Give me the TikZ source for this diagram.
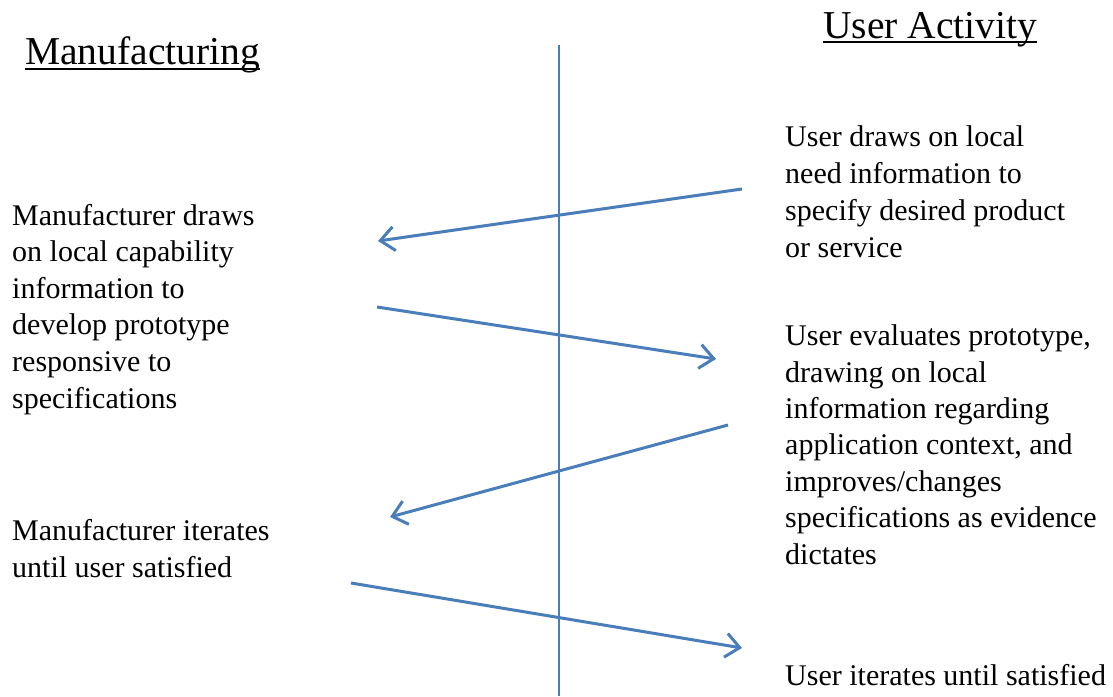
\documentclass[tikz,border=0pt]{standalone}
\usepackage{fontspec}
\setmainfont{Liberation Serif}
\usepackage{tikz}
\usetikzlibrary{positioning,arrows.meta}
\definecolor{flowblue}{RGB}{74,126,187}
\tikzstyle{heading} = [anchor=base west, inner sep=0pt, font=\fontsize{39.5}{46}\selectfont]
\tikzstyle{para} = [anchor=base west, inner sep=0pt, align=left, font=\fontsize{30}{36.4}\selectfont]
\tikzstyle{flow} = [draw=flowblue, line width=3pt, -{Straight Barb[length=14pt,width=24pt,line width=3pt]}]
\tikzstyle{divider} = [draw=flowblue, line width=1.7pt]

\begin{document}
\begin{tikzpicture}[x=1pt, y=-1pt]
            \useasboundingbox (0,0) rectangle (1113,696);
            % column headings
            \node[heading] (mfg) at (25,64) {Manufacturing};
            \node[heading] (usr) at (823,38) {User Activity};
            \draw[line width=2pt] ([yshift=-5pt]mfg.base west) -- ([yshift=-5pt]mfg.base east);
            \draw[line width=2pt] ([yshift=-4pt]usr.base west) -- ([yshift=-4pt]usr.base east);

            % divider
            \coordinate (top) at (559,45);
            \coordinate (bottom) at (559,696);
            \draw[divider] (top) -- (bottom);

            % manufacturer side (base = last line)
            \node[para, font=\fontsize{30}{36.6}\selectfont] (mdraws) at (12,408) {Manufacturer draws\\on local capability\\information to\\develop prototype\\responsive to\\specifications};
            \node[para] (miter) at (12,577) {Manufacturer iterates\\until user satisfied};

            % user side
            \node[para, font=\fontsize{30}{36.7}\selectfont] (udraws) at (785,257) {User draws on local\\need information to\\specify desired product\\or service};
            \node[para] (ueval) at (785,564) {User evaluates prototype,\\drawing on local\\information regarding\\application context, and\\improves/changes\\specifications as evidence\\dictates};
            \node[para] (uiter) at (785,685) {User iterates until satisfied};

            % arrow ends
            \coordinate (a1) at (742,189); \coordinate (b1) at (378,241);
            \coordinate (a2) at (377,307); \coordinate (b2) at (716,359);
            \coordinate (a3) at (728,425); \coordinate (b3) at (390,517);
            \coordinate (a4) at (351,583); \coordinate (b4) at (742,648);
            \draw[flow] (a1) -- (b1);
            \draw[flow] (a2) -- (b2);
            \draw[flow] (a3) -- (b3);
            \draw[flow] (a4) -- (b4);
\end{tikzpicture}
\end{document}
